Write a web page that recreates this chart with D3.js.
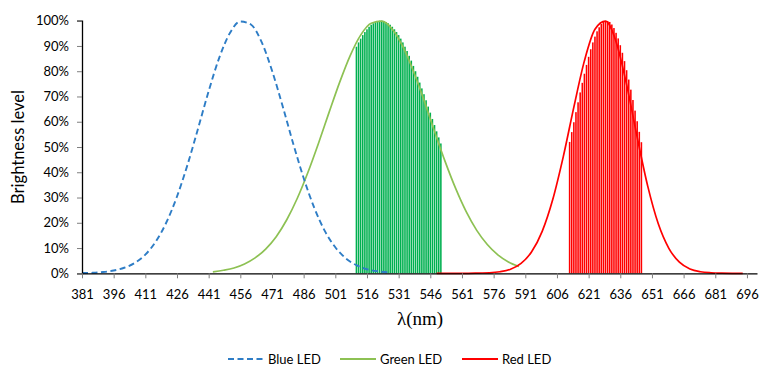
<!DOCTYPE html>
<html><head><meta charset="utf-8">
<script src="https://cdn.jsdelivr.net/npm/d3@7"></script>
<style>body{margin:0;background:#fff}svg{display:block}</style>
</head><body>
<svg id="chart" width="761" height="365"></svg>
<script>
// ---- data ----
const xTickLabels = [381,396,411,426,441,456,471,486,501,516,531,546,561,576,591,606,621,636,651,666,681,696];
const yTickLabels = [0,10,20,30,40,50,60,70,80,90,100];

const blueNm  = [381,386,391,396,401,406,411,416,421,426,431,436,441,446,451,456,461,466,471,476,481,486,491,496,501,506,511,516,521,526];
const blueVal = [0.1,0.2,0.5,1.1,2.2,4.1,7.4,12.6,20.2,30.4,43.0,57.4,72.1,85.3,95.0,99.7,98.5,91.7,80.3,66.3,51.5,37.7,26.0,16.8,10.3,5.9,3.2,1.6,0.8,0.4];

const greenNm  = [443,448,453,458,463,468,473,478,483,488,493,498,503,508,513,518,523,528,533,538,543,548,553,558,563,568,573,578,583,588];
const greenVal = [0.6,1.2,2.1,3.7,6.1,9.6,14.5,21.2,29.7,39.9,51.4,63.6,75.5,86.1,94.3,99.0,99.8,96.6,89.7,80.0,68.5,56.2,44.3,33.6,24.4,17.0,11.4,7.3,4.5,2.7];

const redNm  = [549,554,559,564,569,574,579,584,589,594,599,604,609,614,619,624,629,634,639,644,649,654,659,664,669,674,679,684,689,694];
const redVal = [0,0,0,0,0.1,0.2,0.6,1.6,3.9,8.5,16.6,29.2,46.2,65.8,84.1,96.6,99.8,91.7,74.7,53.9,34.5,19.6,9.9,4.4,1.7,0.6,0.2,0.05,0,0];

const greenBarNm  = [511,512,513,514,515,516,517,518,519,520,521,522,523,524,525,526,527,528,529,530,531,532,533,534,535,536,537,538,539,540,541,542,543,544,545,546,547,548,549,550,551];
const greenBarVal = [89.7,91.4,92.9,94.3,95.5,96.6,97.6,98.4,99.0,99.5,99.8,100,100,99.8,99.5,99.0,98.4,97.6,96.6,95.5,94.3,92.9,91.4,89.7,88.0,86.1,84.2,82.1,80.0,77.8,75.5,73.2,70.9,68.5,66.0,63.6,61.1,58.7,56.2,53.8,51.4];

const redBarNm  = [612,613,614,615,616,617,618,619,620,621,622,623,624,625,626,627,628,629,630,631,632,633,634,635,636,637,638,639,640,641,642,643,644,645,646];
const redBarVal = [52.0,55.9,59.8,63.8,67.7,71.6,75.4,79.0,82.5,85.7,88.7,91.4,93.7,95.8,97.4,98.7,99.5,99.9,99.9,99.5,98.5,97.1,95.2,93.0,90.3,87.3,84.0,80.4,76.7,72.7,68.6,64.4,60.2,56.0,51.9];

const seriesNames = ["Blue LED","Green LED","Red LED"];

// ---- layout ----
const svg = d3.select("#chart");
const x = d3.scaleLinear().domain([381, 701]).range([82, 757.5]);
const y = d3.scaleLinear().domain([0, 100]).range([273.3, 20.7]);
const font = "Lato, 'Open Sans', sans-serif";

const toPts = (xs, vs) => xs.map((d,i)=>({nm:d, v:vs[i]}));

// bars
const bw = (x(1)-x(0))*0.74;
function bars(xs, vs, color){
  svg.append("g").selectAll("rect").data(toPts(xs,vs)).join("rect")
    .attr("x", d=>x(d.nm)-bw/2).attr("width", bw)
    .attr("y", d=>y(d.v)).attr("height", d=>y(0)-y(d.v))
    .attr("fill", color);
}
bars(greenBarNm, greenBarVal, "#00B050");
bars(redBarNm, redBarVal, "#FF0000");

// lines
const line = d3.line().x(d=>x(d.nm)).y(d=>y(d.v)).curve(d3.curveMonotoneX);
svg.append("path").datum(toPts(greenNm,greenVal)).attr("d",line)
  .attr("fill","none").attr("stroke","#8DC153").attr("stroke-width",1.7);
svg.append("path").datum(toPts(redNm,redVal)).attr("d",line)
  .attr("fill","none").attr("stroke","#FF0000").attr("stroke-width",1.7);
svg.append("path").datum(toPts(blueNm,blueVal)).attr("d",line)
  .attr("fill","none").attr("stroke","#2E7DC6").attr("stroke-width",1.9)
  .attr("stroke-dasharray","6,3.5");

// axes
const yAxis = svg.append("g").attr("transform",`translate(${x(381)},0)`)
  .call(d3.axisLeft(y).tickValues(yTickLabels).tickSize(5).tickPadding(8).tickFormat(d=>d+"%"));
const xAxis = svg.append("g").attr("transform",`translate(0,${y(0)})`)
  .call(d3.axisBottom(x).tickValues(xTickLabels).tickSize(5).tickPadding(11).tickFormat(d=>d));
[yAxis,xAxis].forEach(g=>{
  g.select(".domain").attr("stroke","#000").attr("stroke-width",1.3);
  g.selectAll(".tick line").attr("stroke","#7f7f7f");
  g.selectAll("text").attr("font-family",font).attr("font-size",13).attr("fill","#000");
});
xAxis.select(".domain").attr("d",`M${x(381)},0.5H${x(701)}`);

// titles
svg.append("text").attr("transform","translate(24,147) rotate(-90)")
  .attr("text-anchor","middle").attr("font-family",font).attr("font-size",16.5)
  .text("Brightness level");
svg.append("text").attr("x",420).attr("y",325).attr("text-anchor","middle")
  .attr("font-family","'Liberation Serif', serif").attr("font-size",19)
  .text("λ(nm)");

// legend
const legend = [
  {name:seriesNames[0], color:"#2E7DC6", dash:"6,3.5", x0:228},
  {name:seriesNames[1], color:"#8DC153", dash:null, x0:340},
  {name:seriesNames[2], color:"#FF0000", dash:null, x0:462}
];
const lg = svg.append("g");
legend.forEach(l=>{
  lg.append("line").attr("x1",l.x0).attr("x2",l.x0+36).attr("y1",359).attr("y2",359)
    .attr("stroke",l.color).attr("stroke-width",1.8).attr("stroke-dasharray",l.dash);
  lg.append("text").attr("x",l.x0+40).attr("y",363.5).attr("font-family",font)
    .attr("font-size",13).text(l.name);
});
</script>
</body></html>
